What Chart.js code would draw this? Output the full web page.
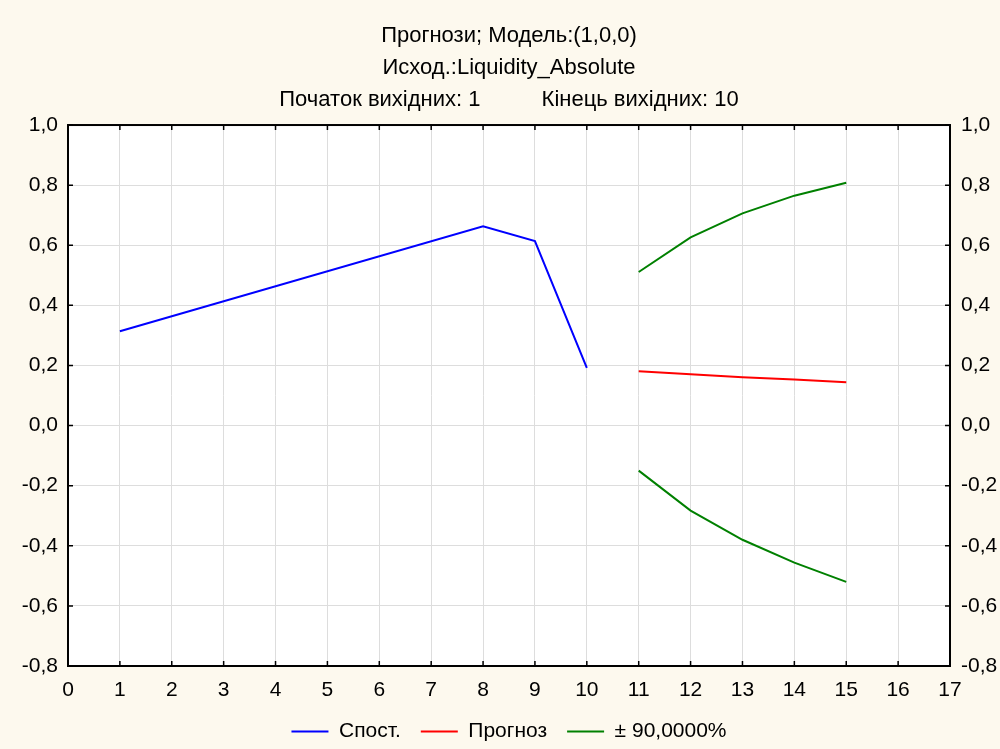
<!DOCTYPE html>
<html>
<head>
<meta charset="utf-8">
<title>Прогнози; Модель:(1,0,0)</title>
<script src="https://cdn.jsdelivr.net/npm/chart.js@4.4.1/dist/chart.umd.min.js"></script>
<style>
    html, body { margin: 0; padding: 0; background: #fdf9ee; }
    #wrap { width: 1000px; height: 749px; position: relative; }
</style>
</head>
<body>
<div id="wrap"><canvas id="forecastChart"></canvas></div>
<script>
// Дані з графіка
const titleLines = [
    'Прогнози; Модель:(1,0,0)',
    'Исход.:Liquidity_Absolute',
    'Початок вихідних: 1          Кінець вихідних: 10'
];
const seriesNames = ['Спост.', 'Прогноз', '± 90,0000%'];

const obsX = [1, 8, 9, 10];
const obsValues = [0.314, 0.663, 0.614, 0.192];

const forecastX = [11, 12, 13, 14, 15];
const forecastValues = [0.181, 0.171, 0.161, 0.153, 0.144];
const upperValues = [0.511, 0.626, 0.706, 0.765, 0.808];
const lowerValues = [-0.150, -0.283, -0.380, -0.456, -0.520];

const xMin = 0, xMax = 17, xStep = 1;
const yMin = -0.8, yMax = 1.0, yStep = 0.2;

const toPoints = (xs, ys) => xs.map((x, i) => ({ x: x, y: ys[i] }));
const fmtY = v => (Math.abs(v) < 1e-9 ? 0 : v).toFixed(1).replace('.', ',');

const FONT = { family: 'Arial, "Liberation Sans", sans-serif', size: 21 };

// фон полотна та білого поля графіка
const backgroundPlugin = {
    id: 'bg',
    beforeDraw(chart) {
        const { ctx, chartArea: a } = chart;
        ctx.save();
        ctx.fillStyle = '#fdf9ee';
        ctx.fillRect(0, 0, chart.width, chart.height);
        ctx.fillStyle = '#ffffff';
        ctx.fillRect(a.left, a.top, a.right - a.left, a.bottom - a.top);
        ctx.restore();
    }
};

// рамка та внутрішні поділки на всіх чотирьох сторонах
const framePlugin = {
    id: 'frame',
    afterDraw(chart) {
        const { ctx, chartArea: a, scales } = chart;
        const len = 5;
        ctx.save();
        ctx.strokeStyle = '#000';
        ctx.lineWidth = 1.5;
        ctx.beginPath();
        scales.x.ticks.forEach(t => {
            const px = scales.x.getPixelForValue(t.value);
            ctx.moveTo(px, a.top); ctx.lineTo(px, a.top + len);
            ctx.moveTo(px, a.bottom); ctx.lineTo(px, a.bottom - len);
        });
        scales.y.ticks.forEach(t => {
            const py = scales.y.getPixelForValue(t.value);
            ctx.moveTo(a.left, py); ctx.lineTo(a.left + len, py);
            ctx.moveTo(a.right, py); ctx.lineTo(a.right - len, py);
        });
        ctx.stroke();
        ctx.lineWidth = 2;
        ctx.strokeRect(a.left, a.top, a.right - a.left, a.bottom - a.top);
        ctx.restore();
    }
};

const lineStyle = color => ({
    borderColor: color,
    backgroundColor: color,
    borderWidth: 2,
    pointRadius: 0,
    pointHoverRadius: 0,
    tension: 0,
    fill: false
});

new Chart(document.getElementById('forecastChart'), {
    type: 'line',
    data: {
        datasets: [
            { label: seriesNames[0], data: toPoints(obsX, obsValues), ...lineStyle('#0000ff') },
            { label: seriesNames[1], data: toPoints(forecastX, forecastValues), ...lineStyle('#ff0000') },
            { label: seriesNames[2], data: toPoints(forecastX, upperValues), ...lineStyle('#008000') },
            { label: seriesNames[2] + ' (lower)', data: toPoints(forecastX, lowerValues), ...lineStyle('#008000') }
        ]
    },
    options: {
        responsive: true,
        maintainAspectRatio: false,
        animation: false,
        layout: { padding: { left: 0, right: 0, top: 0, bottom: -3 } },
        scales: {
            x: {
                type: 'linear',
                min: xMin, max: xMax,
                border: { display: false },
                grid: { color: '#dddddd', lineWidth: 1, drawTicks: false },
                ticks: { stepSize: xStep, color: '#000', font: FONT, padding: 12 },
                afterFit: scale => { scale.height = 35; }
            },
            y: {
                type: 'linear',
                position: 'left',
                min: yMin, max: yMax,
                border: { display: false },
                grid: { color: '#dddddd', lineWidth: 1, drawTicks: false },
                ticks: { stepSize: yStep, color: '#000', font: FONT, padding: 10, callback: fmtY },
                afterFit: scale => { scale.width = 68; }
            },
            y2: {
                type: 'linear',
                position: 'right',
                min: yMin, max: yMax,
                border: { display: false },
                grid: { display: false, drawTicks: false },
                ticks: { stepSize: yStep, color: '#000', font: FONT, padding: 11, callback: fmtY },
                afterFit: scale => { scale.width = 50; }
            }
        },
        plugins: {
            title: {
                display: true,
                fullSize: false,
                text: titleLines,
                color: '#000',
                font: { ...FONT, size: 22, weight: 'normal', lineHeight: 1.455 },
                padding: { top: 20, bottom: 9 }
            },
            legend: {
                position: 'bottom',
                fullSize: false,
                labels: {
                    color: '#000',
                    font: FONT,
                    usePointStyle: true,
                    pointStyle: 'line',
                    pointStyleWidth: 37,
                    padding: 20,
                    filter: item => item.datasetIndex !== 3
                }
            },
            tooltip: { enabled: false }
        }
    },
    plugins: [backgroundPlugin, framePlugin]
});
</script>
</body>
</html>
